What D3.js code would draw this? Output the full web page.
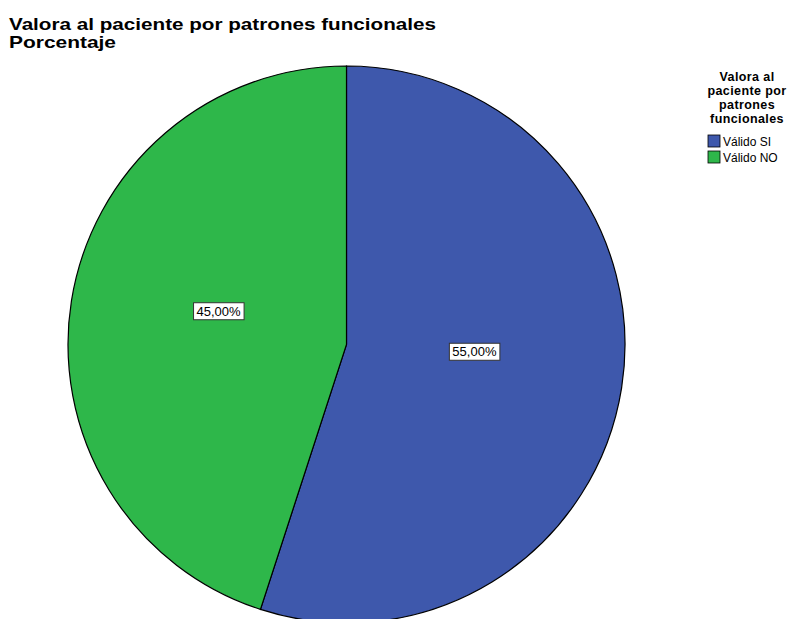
<!DOCTYPE html>
<html>
<head>
<meta charset="utf-8">
<script src="https://cdn.jsdelivr.net/npm/d3@7"></script>
<style>
  html, body { margin: 0; padding: 0; background: #ffffff; }
  svg { display: block; font-family: "Liberation Sans", Arial, sans-serif; }
</style>
</head>
<body>
<svg id="chart" width="796" height="619"></svg>
<script>
// Categories and percentages
const categories = ["Válido SI", "Válido NO"];
const percentages = [55, 45];
const colors = ["#3E58AC", "#2EB74A"];
const titleLines = ["Valora al paciente por patrones funcionales", "Porcentaje"];
const titleWidths = [427, 107];
const legendTitle = ["Valora al", "paciente por", "patrones", "funcionales"];

const svg = d3.select("#chart");

// Title (two lines, wide bold face)
svg.append("g").selectAll("text")
  .data(titleLines)
  .join("text")
  .attr("x", 9)
  .attr("y", (d, i) => 30 + i * 18)
  .attr("font-size", 17)
  .attr("font-weight", "bold")
  .attr("fill", "#000")
  .attr("textLength", (d, i) => titleWidths[i])
  .attr("lengthAdjust", "spacingAndGlyphs")
  .text(d => d);

// Pie
const cx = 346.5, cy = 344.5, R = 278.5;
const data = categories.map((c, i) => ({ cat: c, value: percentages[i], color: colors[i] }));
const pie = d3.pie().value(d => d.value).sort(null);
const arcs = pie(data);
const arc = d3.arc().innerRadius(0).outerRadius(R);
const labelArc = d3.arc().innerRadius(R * 0.465).outerRadius(R * 0.465);

const g = svg.append("g").attr("transform", `translate(${cx},${cy})`);
g.selectAll("path")
  .data(arcs)
  .join("path")
  .attr("d", arc)
  .attr("fill", d => d.data.color)
  .attr("stroke", "#000")
  .attr("stroke-width", 1.2);

// Boxed percentage labels
const fmt = v => d3.format(".2f")(v).replace(".", ",") + "%";
const labels = g.selectAll("g.lbl")
  .data(arcs)
  .join("g")
  .attr("class", "lbl")
  .attr("transform", d => {
    const [x, y] = labelArc.centroid(d);
    return `translate(${x},${y - 13})`;
  });
labels.each(function(d) {
  const sel = d3.select(this);
  const t = sel.append("text")
    .attr("text-anchor", "middle")
    .attr("dominant-baseline", "central")
    .attr("font-size", 13)
    .attr("fill", "#000")
    .text(fmt(d.data.value));
  const bb = t.node().getBBox();
  sel.insert("rect", "text")
    .attr("x", bb.x - 3)
    .attr("y", bb.y - 1)
    .attr("width", bb.width + 6)
    .attr("height", bb.height + 2)
    .attr("fill", "#fff")
    .attr("stroke", "#333")
    .attr("stroke-width", 1);
});

// Legend
const lg = svg.append("g");
lg.selectAll("text.lt")
  .data(legendTitle)
  .join("text")
  .attr("class", "lt")
  .attr("x", 747)
  .attr("y", (d, i) => 81 + i * 14)
  .attr("text-anchor", "middle")
  .attr("font-size", 12.5)
  .attr("letter-spacing", 0.4)
  .attr("font-weight", "bold")
  .attr("fill", "#000")
  .text(d => d);

const items = lg.selectAll("g.item")
  .data(data)
  .join("g")
  .attr("class", "item")
  .attr("transform", (d, i) => `translate(708,${135 + i * 16})`);
items.append("rect")
  .attr("width", 12).attr("height", 12)
  .attr("fill", d => d.color)
  .attr("stroke", "#000").attr("stroke-width", 0.8);
items.append("text")
  .attr("x", 15).attr("y", 11)
  .attr("font-size", 12)
  .attr("fill", "#000")
  .text(d => d.cat);
</script>
</body>
</html>
